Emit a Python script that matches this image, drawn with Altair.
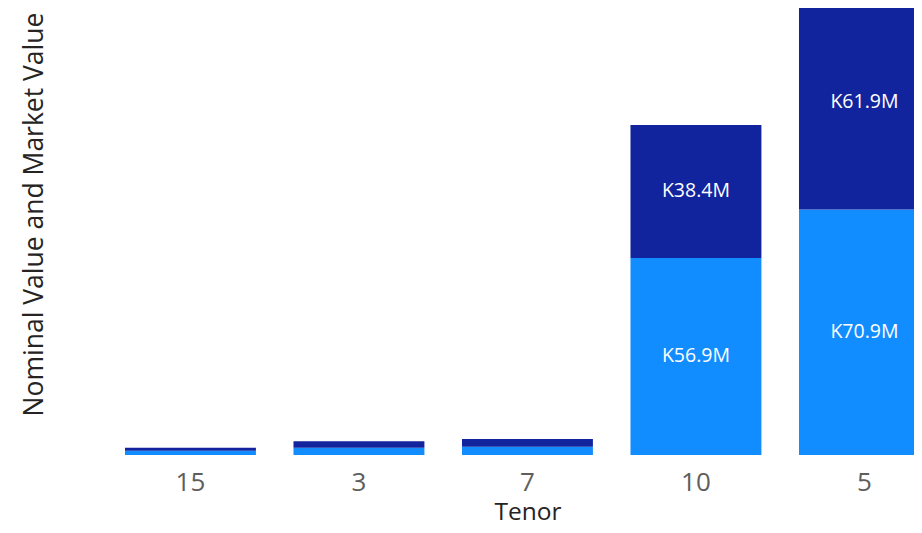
import altair as alt
import pandas as pd

# ---- data (values in millions) ----
tenors = ["15", "3", "7", "10", "5"]
nominal_value = [1.2, 2.1, 2.4, 56.9, 70.9]   # bottom segment (light blue)
market_value = [0.9, 1.9, 2.2, 38.4, 61.9]    # top segment (dark blue)
series = ["Nominal Value", "Market Value"]
colors = ["#118DFF", "#12239E"]

rows = []
for t, n, m in zip(tenors, nominal_value, market_value):
    rows.append({"Tenor": t, "Series": series[0], "Value": n, "ord": 0, "Label": f"K{n:.1f}M"})
    rows.append({"Tenor": t, "Series": series[1], "Value": m, "ord": 1, "Label": f"K{m:.1f}M"})
df = pd.DataFrame(rows)

FONT = "Open Sans"
W, H = 854, 447

x_scale = alt.Scale(domain=tenors, range=[46.2, 888.7], paddingInner=0.223, paddingOuter=0.1115)
y_scale = alt.Scale(domain=[0, 140.9], range=[H, -41], nice=False, zero=True)

base = alt.Chart(df).transform_stack(
    stack="Value",
    groupby=["Tenor"],
    as_=["v0", "v1"],
    sort=[alt.SortField("ord", order="ascending")],
).transform_calculate(mid="(datum.v0 + datum.v1) / 2")

bars = base.mark_bar(clip=True).encode(
    x=alt.X(
        "Tenor:N",
        scale=x_scale,
        axis=alt.Axis(
            title="Tenor",
            domain=False,
            ticks=False,
            grid=False,
            labelAngle=0,
            labelFont=FONT,
            labelFontSize=26,
            labelColor="#605E5C",
            labelBaseline="alphabetic",
            labelPadding=35,
            titleFont=FONT,
            titleFontSize=24.5,
            titleFontWeight="normal",
            titleColor="#252423",
            titleBaseline="alphabetic",
            titleY=64,
        ),
    ),
    y=alt.Y(
        "v0:Q",
        scale=y_scale,
        axis=alt.Axis(
            title="Nominal Value and Market Value",
            domain=False,
            ticks=False,
            grid=False,
            labels=False,
            titleFont=FONT,
            titleFontSize=26.5,
            titleFontWeight="normal",
            titleColor="#252423",
            titleBaseline="alphabetic",
            titleX=-18,
            titleY=206,
        ),
    ),
    y2="v1:Q",
    color=alt.Color("Series:N", scale=alt.Scale(domain=series, range=colors), legend=None),
)

labels = base.transform_filter("datum.Value > 10").mark_text(
    color="white", font=FONT, fontSize=19.5, baseline="middle", align="center"
).encode(
    x=alt.X("Tenor:N", scale=x_scale),
    y=alt.Y("mid:Q", scale=y_scale),
    text="Label:N",
)

chart = (
    alt.layer(bars, labels)
    .properties(
        width=W,
        height=H,
        autosize=alt.AutoSizeParams(type="none"),
        padding={"left": 52, "top": 0, "right": 0, "bottom": 70},
        background="white",
    )
    .configure_view(stroke="transparent")
)

chart.save("out.html", embed_options={"renderer": "svg", "actions": False})
